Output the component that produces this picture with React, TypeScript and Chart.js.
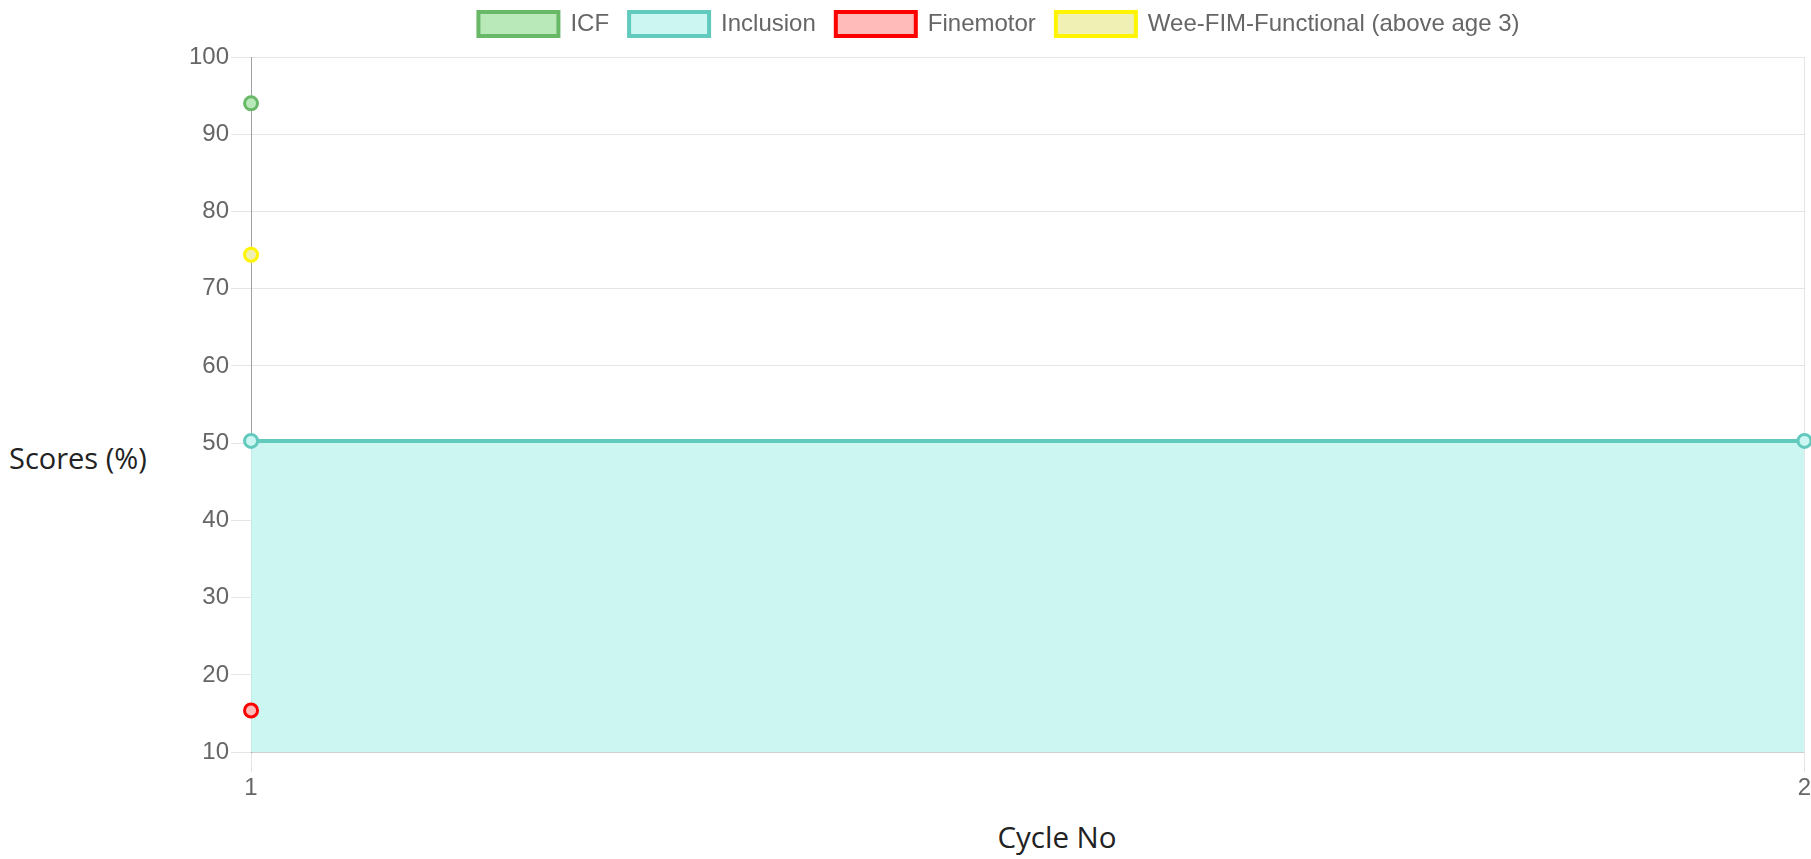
import React, { useEffect, useRef } from "react";
import { Chart, registerables } from "chart.js";

Chart.register(...registerables);

const cycleLabels = ["1", "2"];
const icfValues = [94.0, null];
const inclusionValues = [50.3, 50.3];
const finemotorValues = [15.4, null];
const weeFimValues = [74.4, null];
const seriesNames = ["ICF", "Inclusion", "Finemotor", "Wee-FIM-Functional (above age 3)"];
const yTitle = "Scores (%)";
const xTitle = "Cycle No";

const legendSpacer = {
  id: "legendSpacer",
  beforeInit(chart: any) {
    const orig = chart.legend.fit;
    chart.legend.fit = function fit() {
      orig.bind(chart.legend)();
      this.height += 11;
    };
  },
};

export default function App() {
  const ref = useRef<HTMLCanvasElement | null>(null);

  useEffect(() => {
    document.body.style.margin = "0";
    const ctx = ref.current!.getContext("2d")!;
    const font = { family: "'Liberation Sans', Arial, sans-serif", size: 24 };
    const mk = (label: string, data: (number | null)[], bg: string, border: string, fill: any) => ({
      label,
      data,
      backgroundColor: bg,
      borderColor: border,
      pointBackgroundColor: bg,
      pointBorderColor: border,
      borderWidth: 4,
      pointRadius: 6.5,
      pointBorderWidth: 3,
      fill,
      tension: 0,
      clip: false as any,
    });
    const chart = new Chart(ctx, {
      type: "line",
      data: {
        labels: cycleLabels,
        datasets: [
          mk(seriesNames[0], icfValues, "rgb(185,232,185)", "rgb(104,184,104)", false),
          mk(seriesNames[1], inclusionValues, "rgb(203,246,241)", "rgb(98,201,189)", "start"),
          mk(seriesNames[2], finemotorValues, "rgb(255,186,186)", "rgb(255,0,0)", false),
          mk(seriesNames[3], weeFimValues, "rgb(240,240,180)", "rgb(255,245,0)", false),
        ],
      },
      plugins: [legendSpacer],
      options: {
        animation: false,
        responsive: false,
        maintainAspectRatio: false,
        layout: { padding: { left: 0, right: 3, top: -8, bottom: 0 } },
        plugins: {
          filler: { drawTime: "beforeDatasetsDraw" },
          legend: {
            labels: {
              font,
              color: "#666",
              boxWidth: 80,
              boxHeight: 24,
              padding: 20,
            },
          },
          tooltip: { enabled: false },
        } as any,
        scales: {
          x: {
            offset: false,
            grid: { color: "rgba(0,0,0,0.1)", tickLength: 20 },
            border: { color: "rgba(0,0,0,0.1)" },
            ticks: { font, color: "#666", padding: 2 },
          },
          y: {
            min: 10,
            max: 100,
            grid: { color: "rgba(0,0,0,0.1)", tickLength: 20 },
            border: { color: "rgba(0,0,0,0.3)" },
            ticks: { font, color: "#666", stepSize: 10, padding: 2 },
          },
        },
      },
    });
    return () => chart.destroy();
  }, []);

  return (
    <div style={{ position: "relative", width: 1811, height: 859, overflow: "hidden" }}>
      <div
        style={{
          position: "absolute",
          left: 9,
          top: 438,
          fontFamily: "'Open Sans', 'Noto Sans', sans-serif",
          fontSize: 29,
          color: "#222",
          whiteSpace: "nowrap",
          lineHeight: "40px",
        }}
      >
        {yTitle}
      </div>
      <canvas ref={ref} width={1627} height={805} style={{ position: "absolute", left: 187, top: 0 }} />
      <div
        style={{
          position: "absolute",
          left: 957,
          width: 200,
          top: 817,
          textAlign: "center",
          fontFamily: "'Open Sans', 'Noto Sans', sans-serif",
          fontSize: 29.5,
          color: "#222",
          lineHeight: "40px",
        }}
      >
        {xTitle}
      </div>
    </div>
  );
}
